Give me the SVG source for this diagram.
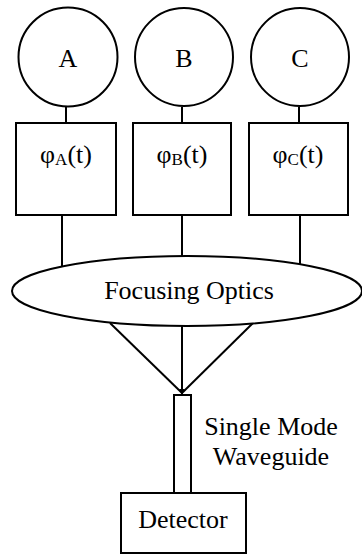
<svg xmlns="http://www.w3.org/2000/svg" width="362" height="554" viewBox="0 0 362 554">
  <style>
    .shape { fill: #ffffff; stroke: #000000; stroke-width: 2; }
    .wire { fill: none; stroke: #000000; stroke-width: 2; }
    text { font-family: "Liberation Serif", "Times New Roman", "DejaVu Serif", serif; font-size: 26px; fill: #000000; text-anchor: middle; }
    .sub { font-size: 17px; }
  </style>
  <defs>
    <marker id="tip" viewBox="0 0 10 10" refX="9" refY="5" markerWidth="3" markerHeight="3" orient="auto">
      <path d="M0,0 L10,5 L0,10 z" fill="#000000"/>
    </marker>
  </defs>

  <!-- connectors -->
  <g id="connectors">
    <line class="wire" x1="66" y1="107" x2="66" y2="123"/>
    <line class="wire" x1="182" y1="107" x2="182" y2="123"/>
    <line class="wire" x1="299" y1="107" x2="299" y2="123"/>
    <line class="wire" x1="62" y1="215" x2="62" y2="266"/>
    <line class="wire" x1="182" y1="215" x2="182" y2="256"/>
    <line class="wire" x1="300" y1="215" x2="300" y2="264"/>
    <line class="wire" x1="110" y1="323" x2="182" y2="393"/>
    <line class="wire" x1="182" y1="326" x2="182" y2="394" marker-end="url(#tip)"/>
    <line class="wire" x1="253" y1="323" x2="182" y2="393"/>
  </g>

  <!-- sources -->
  <g id="source-a">
    <circle class="shape" cx="68" cy="57" r="49.5"/>
    <text x="68" y="67" font-family="Liberation Serif, serif">A</text>
  </g>
  <g id="source-b">
    <circle class="shape" cx="184" cy="57" r="49"/>
    <text x="184" y="67" font-family="Liberation Serif, serif">B</text>
  </g>
  <g id="source-c">
    <circle class="shape" cx="300" cy="57" r="49"/>
    <text x="300" y="67" font-family="Liberation Serif, serif">C</text>
  </g>

  <!-- phase modulators -->
  <g id="phase-a">
    <rect class="shape" x="16" y="123" width="100" height="92"/>
    <text x="66" y="163">φ<tspan class="sub" dy="2">A</tspan><tspan dy="-2">(t)</tspan></text>
  </g>
  <g id="phase-b">
    <rect class="shape" x="133" y="123" width="98" height="92"/>
    <text x="182" y="163">φ<tspan class="sub" dy="2">B</tspan><tspan dy="-2">(t)</tspan></text>
  </g>
  <g id="phase-c">
    <rect class="shape" x="249" y="123" width="99" height="92"/>
    <text x="298" y="163">φ<tspan class="sub" dy="2">C</tspan><tspan dy="-2">(t)</tspan></text>
  </g>

  <!-- combining lens -->
  <g id="focusing-optics">
    <ellipse class="shape" cx="187" cy="291" rx="175" ry="35"/>
    <text x="189" y="299">Focusing Optics</text>
  </g>

  <!-- fibre -->
  <g id="waveguide">
    <rect class="shape" x="174" y="395" width="17" height="98"/>
    <text x="271" y="435">Single Mode</text>
    <text x="271" y="465">Waveguide</text>
  </g>

  <!-- detector -->
  <g id="detector">
    <rect class="shape" x="121" y="493" width="125" height="60"/>
    <text x="183" y="528">Detector</text>
  </g>
</svg>
